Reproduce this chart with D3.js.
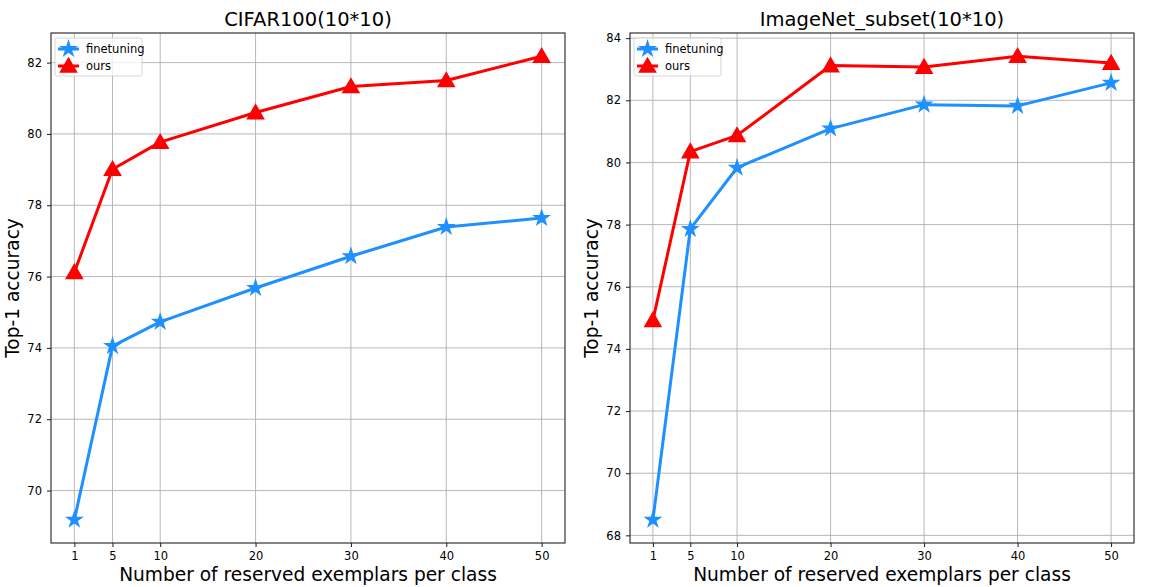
<!DOCTYPE html>
<html>
<head>
<meta charset="utf-8">
<script src="https://cdn.jsdelivr.net/npm/d3@7"></script>
<style>
  body { margin: 0; background: #fff; }
  svg { font-family: "DejaVu Sans", sans-serif; }
</style>
</head>
<body>
<svg id="chart" width="1163" height="587"></svg>
<script>
// exemplars per class (x ticks)
const exemplars = [1, 5, 10, 20, 30, 40, 50];
const seriesNames = ["finetuning", "ours"];

// CIFAR100 panel
const cifarFinetuning = [69.18, 74.05, 74.73, 75.68, 76.57, 77.39, 77.64];
const cifarOurs = [76.12, 79.01, 79.77, 80.60, 81.33, 81.50, 82.18];
const cifarYTicks = [70, 72, 74, 76, 78, 80, 82];

// ImageNet subset panel
const imagenetFinetuning = [68.50, 77.86, 79.83, 81.09, 81.86, 81.82, 82.56];
const imagenetOurs = [74.92, 80.35, 80.87, 83.12, 83.07, 83.42, 83.20];
const imagenetYTicks = [68, 70, 72, 74, 76, 78, 80, 82, 84];

const svg = d3.select("#chart");

const colors = { finetuning: "#1e90ff", ours: "#ff0000" };
const symbols = { finetuning: d3.symbolStar, ours: d3.symbolTriangle };
const symSize = { finetuning: 110, ours: 150 };

function drawPanel(opts) {
  const { left, right, top, bottom, title, series, yTicks } = opts;
  const g = svg.append("g");

  // matplotlib-ish 5% margins
  const allY = series.flatMap(s => s.values);
  const yMin = d3.min(allY), yMax = d3.max(allY);
  const yPad = (yMax - yMin) * 0.05;
  const xPad = (d3.max(exemplars) - d3.min(exemplars)) * 0.05;

  const x = d3.scaleLinear()
    .domain([d3.min(exemplars) - xPad, d3.max(exemplars) + xPad])
    .range([left, right]);
  const y = d3.scaleLinear()
    .domain([yMin - yPad, yMax + yPad])
    .range([bottom, top]);

  // grid
  g.append("g").selectAll("line.vg").data(exemplars).join("line")
    .attr("x1", d => x(d)).attr("x2", d => x(d))
    .attr("y1", top).attr("y2", bottom)
    .attr("stroke", "#b0b0b0").attr("stroke-width", 0.9);
  g.append("g").selectAll("line.hg").data(yTicks).join("line")
    .attr("x1", left).attr("x2", right)
    .attr("y1", d => y(d)).attr("y2", d => y(d))
    .attr("stroke", "#b0b0b0").attr("stroke-width", 0.9);

  // axes
  const xAxis = g.append("g")
    .attr("transform", `translate(0,${bottom})`)
    .call(d3.axisBottom(x).tickValues(exemplars).tickSize(4).tickPadding(5).tickFormat(d3.format("d")));
  const yAxis = g.append("g")
    .attr("transform", `translate(${left},0)`)
    .call(d3.axisLeft(y).tickValues(yTicks).tickSize(4).tickPadding(5).tickFormat(d3.format("d")));
  [xAxis, yAxis].forEach(a => {
    a.select(".domain").remove();
    a.selectAll("text").attr("font-size", 11.5).attr("fill", "#000")
      .style("font-family", "DejaVu Sans");
    a.selectAll(".tick line").attr("stroke", "#000").attr("stroke-width", 0.9);
  });

  // lines + markers
  const line = d3.line().x((d, i) => x(exemplars[i])).y(d => y(d));
  series.forEach(s => {
    g.append("path").datum(s.values)
      .attr("d", line).attr("fill", "none")
      .attr("stroke", colors[s.name]).attr("stroke-width", 3)
      .attr("stroke-linejoin", "round");
    g.append("g").selectAll("path").data(s.values).join("path")
      .attr("transform", (d, i) => `translate(${x(exemplars[i])},${y(d) + (s.name === "ours" ? 1.5 : 0)})`)
      .attr("d", d3.symbol(symbols[s.name], symSize[s.name]))
      .attr("fill", colors[s.name]);
  });

  // frame
  g.append("rect")
    .attr("x", left).attr("y", top)
    .attr("width", right - left).attr("height", bottom - top)
    .attr("fill", "none").attr("stroke", "#222").attr("stroke-width", 1.1);

  // title and labels
  g.append("text")
    .attr("x", (left + right) / 2).attr("y", 26)
    .attr("text-anchor", "middle").attr("font-size", 19.5)
    .text(title);
  g.append("text")
    .attr("x", (left + right) / 2).attr("y", 581)
    .attr("text-anchor", "middle").attr("font-size", 18.6)
    .text("Number of reserved exemplars per class");
  g.append("text")
    .attr("transform", `translate(${left - 32},${(top + bottom) / 2}) rotate(-90)`)
    .attr("text-anchor", "middle").attr("font-size", 18.6)
    .text("Top-1 accuracy");

  // legend
  const lg = g.append("g").attr("transform", `translate(${left + 4},${top + 5})`);
  lg.append("rect")
    .attr("width", 87).attr("height", 38).attr("rx", 2)
    .attr("fill", "#fff").attr("fill-opacity", 0.8)
    .attr("stroke", "#d0d0d0").attr("stroke-width", 0.9);
  seriesNames.forEach((name, i) => {
    const yy = 11 + i * 17;
    lg.append("line")
      .attr("x1", 3).attr("x2", 24).attr("y1", yy).attr("y2", yy)
      .attr("stroke", colors[name]).attr("stroke-width", 3);
    lg.append("path")
      .attr("transform", `translate(13.5,${yy + (name === "ours" ? 1.5 : 0)})`)
      .attr("d", d3.symbol(symbols[name], symSize[name]))
      .attr("fill", colors[name]);
    lg.append("text")
      .attr("x", 31).attr("y", yy + 4)
      .attr("font-size", 11.5)
      .text(name);
  });
}

drawPanel({
  left: 51, right: 565, top: 33, bottom: 543,
  title: "CIFAR100(10*10)",
  series: [
    { name: "finetuning", values: cifarFinetuning },
    { name: "ours", values: cifarOurs }
  ],
  yTicks: cifarYTicks
});

drawPanel({
  left: 630, right: 1134, top: 33, bottom: 543,
  title: "ImageNet_subset(10*10)",
  series: [
    { name: "finetuning", values: imagenetFinetuning },
    { name: "ours", values: imagenetOurs }
  ],
  yTicks: imagenetYTicks
});
</script>
</body>
</html>
